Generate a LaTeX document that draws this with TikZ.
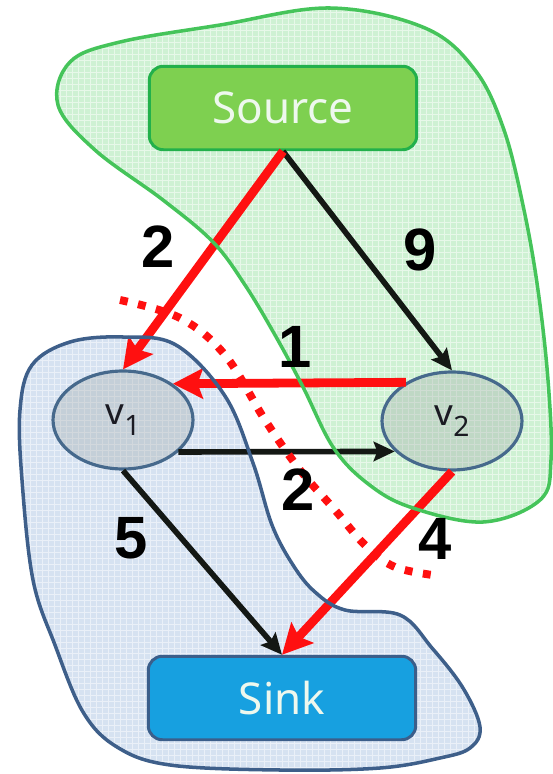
\documentclass[tikz,border=0pt]{standalone}
\usepackage{fontspec}
\setmainfont{Noto Sans}
\newfontfamily\capfont{Liberation Sans}
\usetikzlibrary{arrows.meta,shapes.geometric}
\definecolor{srcfill}{HTML}{7ED050}
\definecolor{srcline}{HTML}{22B04B}
\definecolor{sinkfill}{HTML}{17A0E0}
\definecolor{sinkline}{HTML}{3B5E8A}
\definecolor{vfill}{HTML}{A4ACAC}
\definecolor{vline}{HTML}{46698C}
\definecolor{boxtext}{HTML}{EEF8EE}
\definecolor{vtext}{HTML}{1A1A22}
\definecolor{greenfill}{HTML}{3CC850}
\definecolor{greenline}{HTML}{45C45A}
\definecolor{bluefill}{HTML}{5A8AC8}
\definecolor{blueline}{HTML}{3E5F8A}
\definecolor{edgeblack}{HTML}{141814}
\definecolor{cutred}{HTML}{FF1010}
\newcommand{\vname}[1]{v\raisebox{-6pt}{\fontsize{16}{16}\selectfont #1}}
\begin{document}
\begin{tikzpicture}[x=0.02cm, y=-0.02cm,
    box/.style = {rectangle, rounded corners=8pt, line width=1.7pt,
      minimum width=5.35cm, minimum height=1.67cm,
      font=\fontsize{25}{25}\selectfont, text=boxtext},
    vertex/.style = {ellipse, draw=vline, fill=vfill, fill opacity=0.35,
      text opacity=1, line width=1.8pt,
      minimum width=2.8cm, minimum height=1.96cm,
      font=\fontsize{21}{21}\selectfont, text=vtext},
    cutedge/.style = {draw=cutred, line width=5pt,
      -{Stealth[length=17pt, width=17pt, inset=3pt]}},
    flowedge/.style = {draw=edgeblack, line width=3.2pt,
      -{Stealth[length=12pt, width=11pt, inset=2pt]}},
    mesh/.style = {white, opacity=0.5, line width=0.4pt, step=0.12cm},
    caplabel/.style = {font=\capfont\fontsize{34}{34}\selectfont\bfseries, text=black}]
  \useasboundingbox (0,0) rectangle (552,774);

  % the two sides of the cut
  \begin{scope}
    \clip plot[smooth cycle, tension=0.6] coordinates {
      (58,105) (95,150) (163,200) (213,242) (245,285) (275,335) (303,387)
      (333,447) (367,483) (410,507) (483,522) (540,500) (551,460) (548,380)
      (538,290) (524,210) (504,130) (475,70) (425,28) (330,8) (220,25) (120,42) (70,62)};
    \fill[greenfill, opacity=0.25] (0,0) rectangle (552,774);
    \draw[mesh] (0,0) grid (552,774);
  \end{scope}
  \begin{scope}
    \clip plot[smooth cycle, tension=0.6] coordinates {
      (123,337) (176,345) (225,396) (253,463) (272,525) (293,565) (315,592)
      (345,610) (400,615) (432,648) (463,688) (480,727) (470,748) (440,758)
      (380,768) (280,770) (170,765) (117,747) (83,712) (55,645) (33,580)
      (22,480) (20,410) (32,365) (70,342)};
    \fill[bluefill, opacity=0.25] (0,0) rectangle (552,774);
    \draw[mesh] (0,0) grid (552,774);
  \end{scope}

  % nodes
  \node[box, fill=srcfill, draw=srcline] (source) at (283,108) {Source};
  \node[box, fill=sinkfill, draw=sinkline] (sink) at (282,698) {Sink};
  \node[vertex] (v1) at (123,420) {\vname{1}};
  \node[vertex] (v2) at (452,421) {\vname{2}};

  % edges
  \draw[flowedge] (source.south) -- (v2.north);
  \draw[cutedge] (source.south) -- (v1.north);
  \draw[cutedge] (v2.140) -- (v1.36);
  \draw[flowedge] (v1.-30) -- (v2.-152);
  \draw[flowedge] (v1.south) -- (sink.north);
  \draw[cutedge] (v2.south) -- (sink.north);

  % outlines
  \draw[greenline, line width=2pt] plot[smooth cycle, tension=0.6] coordinates {
    (58,105) (95,150) (163,200) (213,242) (245,285) (275,335) (303,387)
    (333,447) (367,483) (410,507) (483,522) (540,500) (551,460) (548,380)
    (538,290) (524,210) (504,130) (475,70) (425,28) (330,8) (220,25) (120,42) (70,62)};
  \draw[blueline, line width=2pt] plot[smooth cycle, tension=0.6] coordinates {
    (123,337) (176,345) (225,396) (253,463) (272,525) (293,565) (315,592)
    (345,610) (400,615) (432,648) (463,688) (480,727) (470,748) (440,758)
    (380,768) (280,770) (170,765) (117,747) (83,712) (55,645) (33,580)
    (22,480) (20,410) (32,365) (70,342)};

  % the cut
  \draw[cutred, line width=4.5pt, dash pattern=on 4.5pt off 6pt]
    plot[smooth, tension=0.6] coordinates {
    (120,300) (180,318) (225,355) (265,420) (300,470) (335,510)
    (365,545) (395,567) (440,576)};

  % capacities
  \node[caplabel] (c1) at (158,247) {2};
  \node[caplabel] (c2) at (420,250) {9};
  \node[caplabel] (c3) at (295,347) {1};
  \node[caplabel] (c4) at (298,490) {2};
  \node[caplabel] (c5) at (131,538) {5};
  \node[caplabel] (c6) at (435,539) {4};
\end{tikzpicture}
\end{document}
